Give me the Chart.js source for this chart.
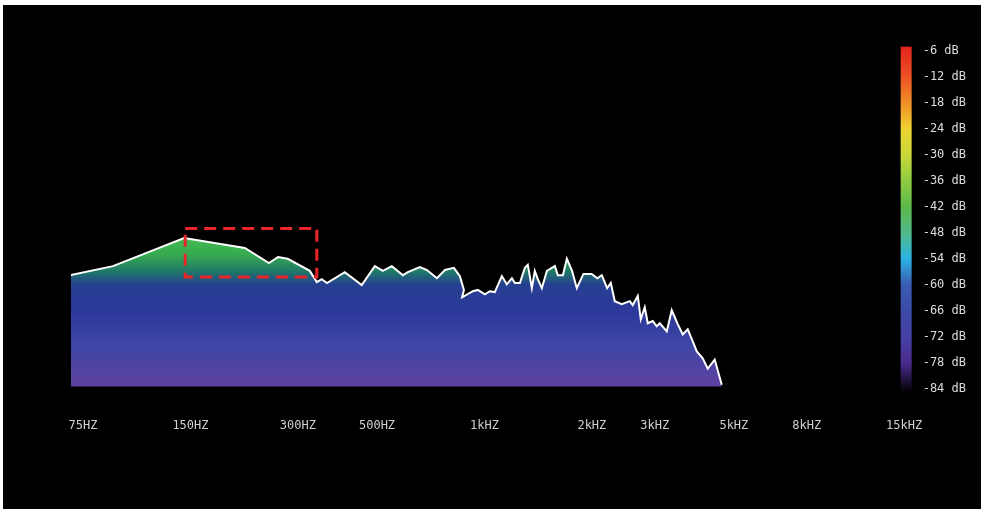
<!DOCTYPE html>
<html>
<head>
<meta charset="utf-8">
<script src="https://cdn.jsdelivr.net/npm/chart.js@4"></script>
<style>
  html, body { margin: 0; padding: 0; background: #fff; }
  #wrap { position: absolute; left: 3px; top: 5px; width: 978px; height: 504px; background: #000; }
</style>
</head>
<body>
<div id="wrap"><canvas id="spectrum"></canvas></div>
<script>
// spectrum trace: frequency (Hz) and level (dB)
const freqHz = [
  69, 91, 144, 213, 249, 264, 281, 324, 339, 350, 362, 406, 453, 493, 519, 550,
  591, 610, 659, 690, 736, 775, 821, 853, 876, 866, 928, 958, 1003, 1035, 1069,
  1119, 1155, 1194, 1217, 1257, 1298, 1323, 1358, 1384, 1411, 1448, 1496, 1575,
  1606, 1659, 1702, 1760, 1815, 1894, 1997, 2072, 2133, 2207, 2260, 2319, 2426,
  2555, 2604, 2690, 2742, 2814, 2869, 2963, 3040, 3100, 3243, 3349, 3481, 3595,
  3713, 3835, 3936, 4090, 4224, 4419, 4624
];
const levelDb = [
  -57.8, -55.7, -49.2, -51.5, -55.0, -53.6, -54.0, -56.8, -59.4, -58.7, -59.6, -57.1, -60.1, -55.7, -56.8, -55.7,
  -57.8, -57.1, -55.9, -56.6, -58.5, -56.6, -56.1, -58.0, -61.2, -62.9, -61.5, -61.2, -62.2, -61.5, -61.7,
  -58.0, -59.9, -58.5, -59.6, -59.6, -56.1, -55.4, -60.8, -56.8, -58.7, -60.8, -56.8, -55.7,
  -57.8, -57.8, -54.0, -56.8, -60.8, -57.5, -57.5, -58.5, -57.8, -60.8, -59.6, -63.8, -64.5,
  -63.8, -64.7, -62.6, -68.0, -65.2, -68.9, -68.4, -69.6, -68.9, -70.8, -65.9, -69.1, -71.5,
  -70.3, -73.1, -75.4, -77.0, -79.4, -77.3, -83.1
];

const tickHz = [75, 150, 300, 500, 1000, 2000, 3000, 5000, 8000, 15000];
const tickLabels = ['75HZ', '150HZ', '300HZ', '500HZ', '1kHZ', '2kHZ', '3kHZ', '5kHZ', '8kHZ', '15kHZ'];
const dbTicks = [-6, -12, -18, -24, -30, -36, -42, -48, -54, -60, -66, -72, -78, -84];

// marked region of the low end
const boxHz = [145, 339];
const boxDb = [-47, -58.2];

// colour bar stops (dB -> colour)
const barStops = [
  [-5, '#e4231e'], [-12, '#ec5223'], [-18, '#f08f27'], [-24, '#eed430'],
  [-30, '#c9d93a'], [-36, '#8fcb42'], [-42, '#5cba4a'], [-48, '#52b98a'],
  [-54, '#2cb3e3'], [-60, '#3a5db2'], [-66, '#3b4aa8'], [-72, '#4540a4'],
  [-78, '#4a2b8e'], [-85, '#000000']
];

// area fill stops (dB -> colour)
const fillStops = [
  [-47, '#4ac451'], [-53, '#36aa50'], [-57, '#1f7868'], [-60, '#263f90'],
  [-66, '#2b389a'], [-74, '#3e46a6'], [-83.5, '#5e419f']
];

function dbGradient(chart, stops) {
  const y = chart.scales.y;
  const top = y.getPixelForValue(stops[0][0]);
  const bottom = y.getPixelForValue(stops[stops.length - 1][0]);
  const g = chart.ctx.createLinearGradient(0, top, 0, bottom);
  stops.forEach(([db, col]) => {
    g.addColorStop((y.getPixelForValue(db) - top) / (bottom - top), col);
  });
  return g;
}

const decorations = {
  id: 'decorations',
  afterDatasetsDraw(chart) {
    const { ctx, chartArea, scales } = chart;
    const x = scales.x, y = scales.y;

    // colour bar next to the dB labels
    const top = y.getPixelForValue(barStops[0][0]);
    const bottom = y.getPixelForValue(barStops[barStops.length - 1][0]);
    ctx.save();
    ctx.fillStyle = dbGradient(chart, barStops);
    ctx.fillRect(chartArea.right - 12, top, 11, bottom - top);

    // dashed highlight box
    const x0 = x.getPixelForValue(boxHz[0]), x1 = x.getPixelForValue(boxHz[1]);
    const y0 = y.getPixelForValue(boxDb[0]), y1 = y.getPixelForValue(boxDb[1]);
    ctx.strokeStyle = '#e8262a';
    ctx.lineWidth = 3;
    ctx.setLineDash([12, 7]);
    ctx.strokeRect(x0, y0, x1 - x0, y1 - y0);
    ctx.restore();
  }
};

const ctx = document.getElementById('spectrum').getContext('2d');
new Chart(ctx, {
  type: 'line',
  data: {
    datasets: [{
      data: freqHz.map((f, i) => ({ x: f, y: levelDb[i] })),
      borderColor: '#ffffff',
      borderWidth: 2,
      pointRadius: 0,
      tension: 0,
      fill: { value: -83.5 },
      backgroundColor: (c) => c.chart.chartArea ? dbGradient(c.chart, fillStops) : 'transparent'
    }]
  },
  options: {
    responsive: true,
    maintainAspectRatio: false,
    animation: false,
    layout: { padding: { left: 68, top: 46, right: 5, bottom: 46 } },
    plugins: { legend: { display: false }, tooltip: { enabled: false } },
    scales: {
      x: {
        type: 'logarithmic',
        min: 69.4,
        max: 15850,
        grid: { display: false, drawTicks: false },
        border: { display: false },
        afterBuildTicks: (axis) => { axis.ticks = tickHz.map((v) => ({ value: v })); },
        ticks: {
          autoSkip: false,
          maxRotation: 0,
          padding: 30,
          color: '#cfcfcf',
          font: { family: 'DejaVu Sans Mono', size: 12 },
          callback: (v, i) => tickLabels[i]
        }
      },
      y: {
        position: 'right',
        min: -84,
        max: -6,
        grid: { display: false, drawTicks: false },
        border: { display: false },
        afterBuildTicks: (axis) => { axis.ticks = dbTicks.map((v) => ({ value: v })); },
        ticks: {
          padding: 10,
          color: '#dcdcdc',
          font: { family: 'DejaVu Sans Mono', size: 12 },
          callback: (v) => v + ' dB'
        }
      }
    }
  },
  plugins: [decorations]
});
</script>
</body>
</html>
